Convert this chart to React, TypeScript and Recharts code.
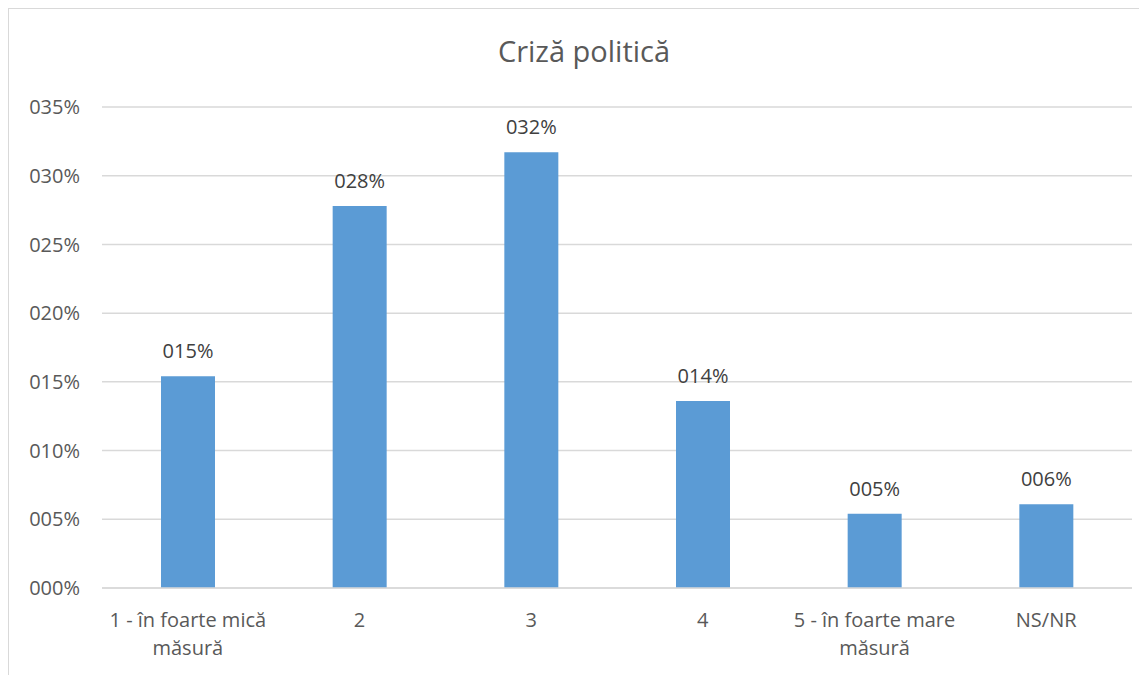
import React from "react";
import {
  BarChart,
  Bar,
  XAxis,
  YAxis,
  CartesianGrid,
  LabelList,
} from "recharts";

const categories = [
  "1 - în foarte mică măsură",
  "2",
  "3",
  "4",
  "5 - în foarte mare măsură",
  "NS/NR",
];
const values = [15.4, 27.8, 31.7, 13.6, 5.4, 6.1];
const yTicks = [0, 5, 10, 15, 20, 25, 30, 35];

const chartData = categories.map((name, i) => ({ name, value: values[i] }));

const FONT = "'Open Sans', sans-serif";
const fmt = (v: number) => String(Math.round(v)).padStart(3, "0") + "%";

let ctx: CanvasRenderingContext2D | null = null;
const measure = (s: string) => {
  if (!ctx) {
    ctx = document.createElement("canvas").getContext("2d");
    if (ctx) ctx.font = "20px 'Open Sans'";
  }
  return ctx ? ctx.measureText(s).width : s.length * 10;
};

// greedy word wrap to the category band width
const wrap = (label: string, maxWidth: number) => {
  const lines: string[] = [];
  let cur = "";
  label.split(" ").forEach((w) => {
    const next = cur ? cur + " " + w : w;
    if (cur && measure(next) > maxWidth) {
      lines.push(cur);
      cur = w;
    } else {
      cur = next;
    }
  });
  if (cur) lines.push(cur);
  return lines;
};

const CategoryTick = (props: any) => {
  const { x, y, payload } = props;
  const lines = wrap(String(payload.value), 168);
  return (
    <text
      x={x}
      y={y}
      textAnchor="middle"
      fill="#595959"
      fontSize={20}
      fontFamily={FONT}
    >
      {lines.map((l, i) => (
        <tspan key={i} x={x} dy={i === 0 ? 14 : 28}>
          {l}
        </tspan>
      ))}
    </text>
  );
};

const App: React.FC = () => {
  return (
    <div style={{ position: "relative" }}>
      <div
        style={{
          width: 1138,
          height: 666,
          borderLeft: "1px solid #d9d9d9",
          borderTop: "1px solid #d9d9d9",
        }}
      >
        <BarChart
          width={1138}
          height={666}
          data={chartData}
          margin={{ top: 98, right: 15, bottom: 0, left: 0 }}
        >
          <CartesianGrid vertical={false} stroke="#d9d9d9" strokeWidth={1.5} />
          <XAxis
            dataKey="name"
            height={87}
            tickLine={false}
            axisLine={{ stroke: "#d9d9d9", strokeWidth: 1.5 }}
            tickMargin={19}
            interval={0}
            tick={<CategoryTick />}
          />
          <YAxis
            width={93}
            domain={[0, 35]}
            ticks={yTicks}
            tickFormatter={fmt}
            axisLine={false}
            tickLine={false}
            tickMargin={16}
            tick={{ fill: "#595959", fontSize: 20, fontFamily: FONT }}
          />
          <Bar dataKey="value" fill="#5B9BD5" barSize={54} isAnimationActive={false}>
            <LabelList
              dataKey="value"
              position="top"
              offset={18}
              formatter={(v: any) => fmt(Number(v))}
              fill="#404040"
              fontSize={20}
              fontFamily={FONT}
            />
          </Bar>
        </BarChart>
      </div>
      <svg
        width={1147}
        height={80}
        style={{ position: "absolute", left: -8, top: -8, pointerEvents: "none" }}
      >
        <polyline
          points="138,0 154,7 170,0"
          fill="none"
          stroke="#262626"
          strokeWidth={1}
        />
        <text
          x={584}
          y={62}
          textAnchor="middle"
          fill="#595959"
          fontSize={29}
          fontFamily={FONT}
        >
          Criză politică
        </text>
      </svg>
    </div>
  );
};

export default App;
